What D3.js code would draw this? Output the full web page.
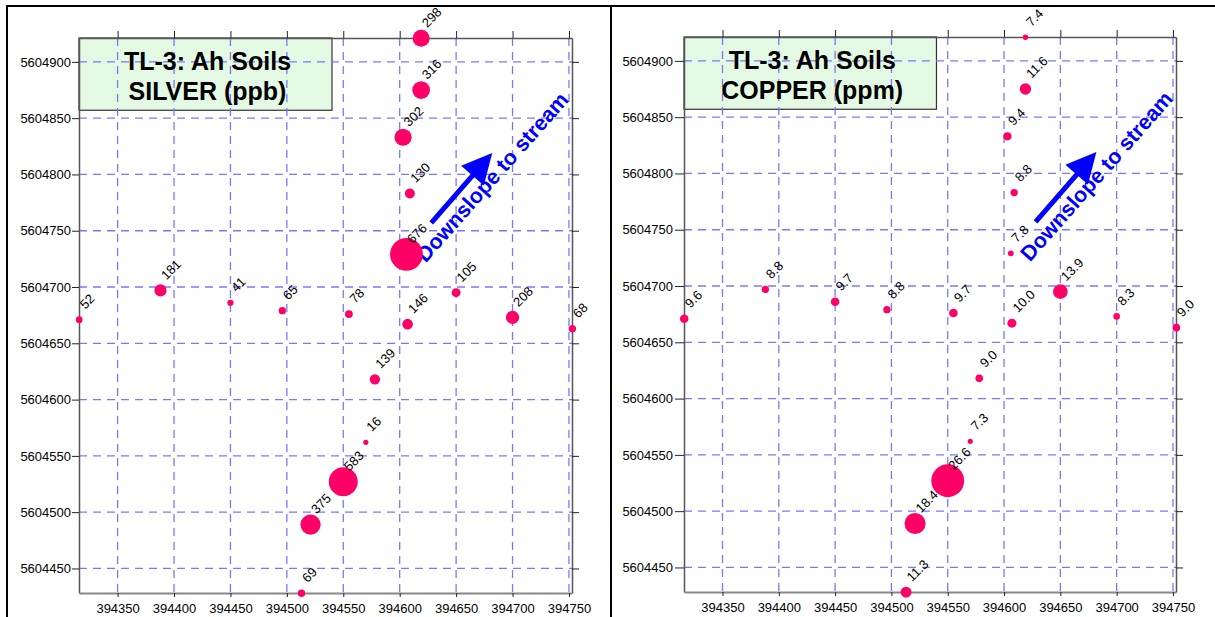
<!DOCTYPE html>
<html>
<head>
<meta charset="utf-8">
<script src="https://cdn.jsdelivr.net/npm/d3@7"></script>
<style>
body { margin: 0; background: #fff; }
svg { display: block; font-family: Arial, "Liberation Sans", sans-serif; }
.tick text { font-size: 13px; fill: #000; }
</style>
</head>
<body>
<svg id="chart" width="1215" height="617"></svg>
<script>
// grid / axis values (UTM metres)
var xTicks = [394350, 394400, 394450, 394500, 394550, 394600, 394650, 394700, 394750];
var yTicks = [5604450, 5604500, 5604550, 5604600, 5604650, 5604700, 5604750, 5604800, 5604850, 5604900];
var xDomain = [394315.8, 394752.7];
var yDomain = [5604428.2, 5604921.2];

// sample sites
var easting = [394316, 394388, 394450, 394496, 394555, 394607, 394650, 394700, 394753,
    394606, 394609, 394603, 394619, 394619, 394578, 394570, 394550, 394521, 394513];
var northing = [5604671, 5604697, 5604686, 5604679, 5604676, 5604667, 5604695, 5604673, 5604663,
    5604729, 5604783, 5604833, 5604875, 5604921, 5604618, 5604562, 5604527, 5604489, 5604428];

var silverValues = [52, 181, 41, 65, 78, 146, 105, 208, 68, 676, 130, 302, 316, 298, 139, 16, 583, 375, 69];
var copperValues = [9.6, 8.8, 9.7, 8.8, 9.7, 10.0, 13.9, 8.3, 9.0, 7.8, 8.8, 9.4, 11.6, 7.4, 9.0, 7.3, 26.6, 18.4, 11.3];

// annotation (also in map coords)
var titleBoxCorner = [394540, 5604857];
var arrowFrom = [394628, 5604757];
var arrowTo = [394682, 5604819];
var arrowLabelAt = [394623, 5604721];
var arrowText = "Downslope to stream";

var panels = [
    { title: ["TL-3: Ah Soils", "SILVER (ppb)"], values: silverValues, fmt: d3.format("d"),
      left: 79, top: 38, width: 493, height: 555, tick: 7, pad: 1 },
    { title: ["TL-3: Ah Soils", "COPPER (ppm)"], values: copperValues, fmt: d3.format(".1f"),
      left: 684, top: 37, width: 492, height: 555, tick: 9, pad: 2 }
];

var svg = d3.select("#chart");

// frame lines
svg.append("line").attr("x1", 6).attr("x2", 1215).attr("y1", 6).attr("y2", 6)
    .attr("stroke", "#000").attr("stroke-width", 2);
svg.append("line").attr("x1", 7).attr("x2", 7).attr("y1", 5).attr("y2", 617)
    .attr("stroke", "#000").attr("stroke-width", 2);
svg.append("line").attr("x1", 611).attr("x2", 611).attr("y1", 5).attr("y2", 617)
    .attr("stroke", "#000").attr("stroke-width", 2);

panels.forEach(function(p) {
    drawPanel(p)
})

function drawPanel(p) {

    var x = d3.scaleLinear().domain(xDomain).range([p.left, p.left + p.width]);
    var y = d3.scaleLinear().domain(yDomain).range([p.top + p.height, p.top]);

    var r = d3.scaleLinear()
        .domain(d3.extent(p.values))
        .range([2.6, 16.4]);

    var g = svg.append("g");

    // title box (behind grid)
    g.append("rect")
        .attr("x", x(xDomain[0]))
        .attr("y", y(yDomain[1]))
        .attr("width", x(titleBoxCorner[0]) - x(xDomain[0]))
        .attr("height", y(titleBoxCorner[1]) - y(yDomain[1]))
        .attr("fill", "#e3f9e3")
        .attr("stroke", "#333")
        .attr("stroke-width", 1.2);

    // dashed grid
    g.append("g").selectAll("line").data(xTicks).enter().append("line")
        .attr("x1", function(d) { return x(d) }).attr("x2", function(d) { return x(d) })
        .attr("y1", y(yDomain[1])).attr("y2", y(yDomain[0]))
        .attr("stroke", "#7878ff").attr("stroke-width", 1.3).attr("stroke-dasharray", "8,6");

    g.append("g").selectAll("line").data(yTicks).enter().append("line")
        .attr("y1", function(d) { return y(d) }).attr("y2", function(d) { return y(d) })
        .attr("x1", x(xDomain[0])).attr("x2", x(xDomain[1]))
        .attr("stroke", "#7878ff").attr("stroke-width", 1.3).attr("stroke-dasharray", "8,6");

    // title text
    var cx = (x(xDomain[0]) + x(titleBoxCorner[0])) / 2 + 2;
    g.selectAll(".title").data(p.title).enter().append("text")
        .attr("class", "title")
        .attr("x", cx)
        .attr("y", function(d, i) { return y(yDomain[1]) + 32 + i * 29.5 })
        .attr("text-anchor", "middle")
        .style("font-size", "25px")
        .style("font-weight", "bold")
        .attr("fill", "#000")
        .text(function(d) { return d });

    // axes
    var fmt = d3.format("d");
    var axL = g.append("g").attr("transform", "translate(" + p.left + ",0)")
        .call(d3.axisLeft(y).tickValues(yTicks).tickFormat(fmt).tickSize(p.tick).tickSizeOuter(0).tickPadding(p.pad));
    var axR = g.append("g").attr("transform", "translate(" + (p.left + p.width) + ",0)")
        .call(d3.axisRight(y).tickValues(yTicks).tickFormat("").tickSize(7).tickSizeOuter(0));
    var axT = g.append("g").attr("transform", "translate(0," + p.top + ")")
        .call(d3.axisTop(x).tickValues(xTicks).tickFormat("").tickSize(7).tickSizeOuter(0));
    var axB = g.append("g").attr("transform", "translate(0," + (p.top + p.height) + ")")
        .call(d3.axisBottom(x).tickValues(xTicks).tickFormat(fmt).tickSize(4).tickSizeOuter(0).tickPadding(7));

    [axL, axR, axT, axB].forEach(function(a) {
        a.attr("font-family", null).attr("font-size", null);
        a.selectAll("line").attr("stroke", "#222");
        a.select(".domain").attr("stroke", "#555").attr("stroke-width", 1.5);
    })
    axB.select(".domain").attr("stroke", "#888").attr("stroke-width", 2);

    // downslope arrow
    var p1 = [x(arrowFrom[0]), y(arrowFrom[1])];
    var p2 = [x(arrowTo[0]), y(arrowTo[1])];
    var dx = p2[0] - p1[0], dy = p2[1] - p1[1];
    var len = Math.sqrt(dx * dx + dy * dy);
    var ux = dx / len, uy = dy / len;
    var head = 30, half = 15;
    var bx = p2[0] - ux * head, by = p2[1] - uy * head;

    g.append("line")
        .attr("x1", p1[0]).attr("y1", p1[1])
        .attr("x2", bx + ux * 2).attr("y2", by + uy * 2)
        .attr("stroke", "#0000ff").attr("stroke-width", 5);

    g.append("polygon")
        .attr("points", [
            [p2[0], p2[1]],
            [bx - uy * half, by + ux * half],
            [bx + uy * half, by - ux * half]
        ].map(function(d) { return d.join(",") }).join(" "))
        .attr("fill", "#0000ff");

    g.append("text")
        .attr("transform", "translate(" + x(arrowLabelAt[0]) + "," + y(arrowLabelAt[1]) + ") rotate(-48.5)")
        .style("font-size", "21.5px")
        .style("font-weight", "bold")
        .attr("fill", "#0000ff")
        .text(arrowText);

    // sample dots
    var sites = p.values.map(function(v, i) {
        return { e: easting[i], n: northing[i], v: v }
    });

    g.append("g").selectAll("circle").data(sites).enter().append("circle")
        .attr("cx", function(d) { return x(d.e) })
        .attr("cy", function(d) { return y(d.n) })
        .attr("r", function(d) { return r(d.v) })
        .attr("fill", "#ff0066");

    g.append("g").selectAll("text").data(sites).enter().append("text")
        .attr("transform", function(d) {
            return "translate(" + (x(d.e) + 6) + "," + (y(d.n) - 10) + ") rotate(-45)"
        })
        .style("font-size", "13px")
        .attr("fill", "#000")
        .text(function(d) { return p.fmt(d.v) });
}
</script>
</body>
</html>
